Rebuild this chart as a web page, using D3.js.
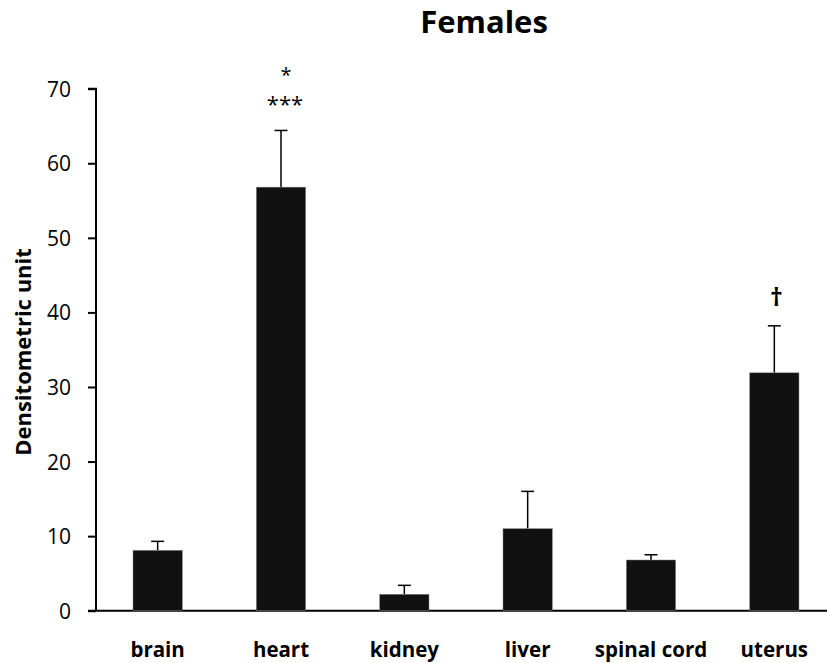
<!DOCTYPE html>
<html>
<head>
<meta charset="utf-8">
<script src="https://cdn.jsdelivr.net/npm/d3@7"></script>
<style>
  body { margin: 0; background: #fff; }
  svg text { font-family: "Open Sans", "Lato", sans-serif; fill: #000; }
</style>
</head>
<body>
<svg width="827" height="663"></svg>
<script>
// data
const tissues = ["brain", "heart", "kidney", "liver", "spinal cord", "uterus"];
const means = [8.1, 56.8, 2.2, 11.0, 6.8, 31.9];
const errors = [1.2, 7.6, 1.2, 5.0, 0.7, 6.3];
const marks = ["", "***", "", "", "", "†"];
const topMarks = ["", "*", "", "", "", ""];
const yTicks = [0, 10, 20, 30, 40, 50, 60, 70];

const svg = d3.select("svg");
const margin = { left: 96, top: 88.7, bottom: 610.7 };

const x = d3.scaleBand()
    .domain(tissues)
    .range([margin.left, 836])
    .paddingInner(0.6)
    .paddingOuter(0.3);

const y = d3.scaleLinear()
    .domain([0, 70])
    .range([margin.bottom, margin.top]);

const rows = tissues.map((t, i) => ({ t, m: means[i], e: errors[i], mark: marks[i], top: topMarks[i] }));

// title
svg.append("text")
    .attr("x", 484)
    .attr("y", 33)
    .attr("text-anchor", "middle")
    .style("font-size", "31px")
    .style("font-weight", "bold")
    .text("Females");

// y axis
const yAxis = svg.append("g")
    .attr("transform", `translate(${margin.left},0)`)
    .call(d3.axisLeft(y).tickValues(yTicks).tickSize(8).tickPadding(17));
yAxis.select(".domain").attr("d", `M-8,${y(70)}H0V${y(0)}`).attr("stroke", "#000").attr("stroke-width", 2);
yAxis.selectAll(".tick line").attr("stroke", "#000").attr("stroke-width", 2);
yAxis.selectAll(".tick text").style("font-size", "21px").attr("dy", "0.36em");

svg.append("text")
    .attr("transform", "translate(31,352) rotate(-90)")
    .attr("text-anchor", "middle")
    .style("font-size", "22px")
    .style("font-weight", "bold")
    .text("Densitometric unit");

// x axis line
svg.append("line")
    .attr("x1", margin.left - 8)
    .attr("x2", 836)
    .attr("y1", y(0))
    .attr("y2", y(0))
    .attr("stroke", "#000")
    .attr("stroke-width", 2);

svg.append("g").selectAll("text")
    .data(tissues)
    .join("text")
    .attr("x", d => x(d) + x.bandwidth() / 2)
    .attr("y", 657)
    .attr("text-anchor", "middle")
    .style("font-size", "20.5px")
    .style("font-weight", "bold")
    .text(d => d);

// error bars (upper only)
const err = svg.append("g").attr("stroke", "#000").attr("stroke-width", 1.5);
rows.forEach(d => {
    const cx = x(d.t) + x.bandwidth() / 2;
    err.append("line").attr("x1", cx).attr("x2", cx).attr("y1", y(d.m)).attr("y2", y(d.m + d.e));
    err.append("line").attr("x1", cx - 6.5).attr("x2", cx + 6.5).attr("y1", y(d.m + d.e)).attr("y2", y(d.m + d.e));
});

// bars
svg.append("g").selectAll("rect")
    .data(rows)
    .join("rect")
    .attr("x", d => x(d.t))
    .attr("y", d => y(d.m))
    .attr("width", x.bandwidth())
    .attr("height", d => y(0) - y(d.m))
    .attr("fill", "#111")
    .attr("stroke", "#888")
    .attr("stroke-width", 0.5);

// significance marks above the error bars
svg.append("g").selectAll("text")
    .data(rows.filter(d => d.mark))
    .join("text")
    .attr("x", d => x(d.t) + x.bandwidth() / 2 + (d.mark === "†" ? 2 : 4))
    .attr("y", d => y(d.m + d.e) - (d.mark === "†" ? 20 : 18))
    .attr("text-anchor", "middle")
    .style("font-size", d => d.mark === "†" ? "25px" : "22px")
    .style("font-weight", d => d.mark === "†" ? "bold" : "normal")
    .text(d => d.mark);

svg.append("g").selectAll("text")
    .data(rows.filter(d => d.top))
    .join("text")
    .attr("x", d => x(d.t) + x.bandwidth() / 2 + 5)
    .attr("y", d => y(d.m + d.e) - 48)
    .attr("text-anchor", "middle")
    .style("font-size", "20px")
    .text(d => d.top);
</script>
</body>
</html>
